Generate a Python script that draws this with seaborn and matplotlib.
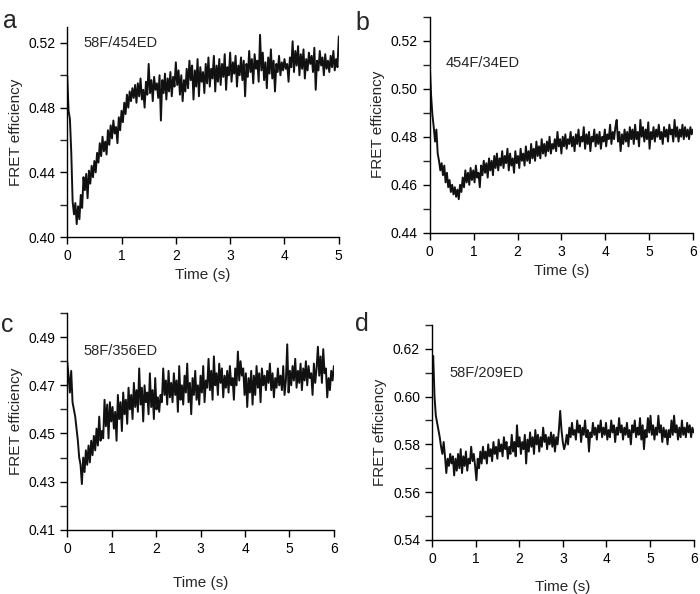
import matplotlib
matplotlib.use("Agg")
import matplotlib.pyplot as plt
import seaborn as sns
import numpy as np

# sampling interval (s) of each trace
dt_a = 0.025
dt_bcd = 0.03

# panel a: 58F/454ED
fret_a = [
    0.500, 0.478, 0.473, 0.452, 0.422, 0.414, 0.421, 0.408, 0.419, 0.411,
    0.426, 0.418, 0.437, 0.429, 0.439, 0.424, 0.441, 0.433, 0.444, 0.437,
    0.447, 0.440, 0.452, 0.446, 0.458, 0.450, 0.462, 0.453, 0.459, 0.451,
    0.466, 0.457, 0.469, 0.461, 0.472, 0.464, 0.468, 0.458, 0.474, 0.466,
    0.478, 0.471, 0.483, 0.476, 0.488, 0.480, 0.490, 0.484, 0.492, 0.486,
    0.494, 0.483, 0.495, 0.487, 0.498, 0.485, 0.491, 0.480, 0.496, 0.488,
    0.507, 0.489, 0.497, 0.484, 0.499, 0.491, 0.495, 0.486, 0.500, 0.472,
    0.497, 0.489, 0.501, 0.485, 0.498, 0.490, 0.502, 0.487, 0.499, 0.493,
    0.508, 0.494, 0.503, 0.488, 0.500, 0.484, 0.497, 0.490, 0.504, 0.492,
    0.509, 0.497, 0.506, 0.485, 0.503, 0.493, 0.510, 0.487, 0.505, 0.496,
    0.502, 0.489, 0.507, 0.495, 0.511, 0.493, 0.504, 0.498, 0.512, 0.490,
    0.506, 0.496, 0.510, 0.494, 0.507, 0.499, 0.513, 0.491, 0.505, 0.500,
    0.514, 0.496, 0.508, 0.501, 0.512, 0.493, 0.506, 0.500, 0.511, 0.497,
    0.509, 0.487, 0.507, 0.499, 0.515, 0.502, 0.510, 0.495, 0.513, 0.504,
    0.509, 0.496, 0.525, 0.503, 0.514, 0.497, 0.508, 0.492, 0.511, 0.501,
    0.516, 0.498, 0.509, 0.490, 0.507, 0.502, 0.512, 0.500, 0.508, 0.503,
    0.510, 0.504, 0.507, 0.496, 0.511, 0.505, 0.521, 0.502, 0.515, 0.506,
    0.518, 0.500, 0.513, 0.504, 0.516, 0.498, 0.510, 0.503, 0.514, 0.507,
    0.512, 0.502, 0.517, 0.491, 0.509, 0.503, 0.515, 0.506, 0.511, 0.500,
    0.513, 0.504, 0.509, 0.502, 0.512, 0.505, 0.515, 0.503, 0.510, 0.505,
    0.524,
]

# panel b: 454F/34ED
fret_b = [
    0.510, 0.497, 0.489, 0.484, 0.478, 0.483, 0.473, 0.470, 0.466, 0.469,
    0.464, 0.468, 0.461, 0.465, 0.459, 0.462, 0.457, 0.460, 0.456, 0.459,
    0.455, 0.458, 0.454, 0.460, 0.457, 0.463, 0.459, 0.466, 0.461, 0.465,
    0.460, 0.467, 0.462, 0.466, 0.461, 0.468, 0.463, 0.465, 0.459, 0.468,
    0.464, 0.470, 0.465, 0.469, 0.463, 0.471, 0.466, 0.470, 0.464, 0.472,
    0.467, 0.473, 0.466, 0.471, 0.468, 0.474, 0.467, 0.472, 0.469, 0.475,
    0.466, 0.473, 0.468, 0.471, 0.465, 0.474, 0.469, 0.472, 0.467, 0.475,
    0.470, 0.473, 0.468, 0.476, 0.470, 0.474, 0.469, 0.477, 0.471, 0.475,
    0.470, 0.478, 0.472, 0.476, 0.471, 0.479, 0.473, 0.477, 0.472, 0.478,
    0.474, 0.480, 0.473, 0.477, 0.475, 0.479, 0.474, 0.482, 0.476, 0.479,
    0.473, 0.480, 0.476, 0.481, 0.475, 0.479, 0.477, 0.482, 0.476, 0.480,
    0.474, 0.481, 0.477, 0.483, 0.476, 0.480, 0.478, 0.484, 0.475, 0.481,
    0.477, 0.482, 0.474, 0.480, 0.478, 0.483, 0.476, 0.481, 0.477, 0.482,
    0.475, 0.480, 0.478, 0.483, 0.476, 0.481, 0.479, 0.485, 0.477, 0.482,
    0.479, 0.484, 0.487, 0.478, 0.482, 0.474, 0.481, 0.477, 0.483, 0.478,
    0.482, 0.476, 0.484, 0.479, 0.483, 0.477, 0.485, 0.479, 0.482, 0.476,
    0.487, 0.480, 0.484, 0.478, 0.483, 0.479, 0.486, 0.475, 0.482, 0.479,
    0.484, 0.478, 0.483, 0.480, 0.485, 0.479, 0.482, 0.477, 0.484, 0.480,
    0.483, 0.478, 0.485, 0.481, 0.483, 0.478, 0.487, 0.480, 0.484, 0.478,
    0.483, 0.480, 0.485, 0.479, 0.484, 0.480, 0.483, 0.479, 0.484, 0.481,
    0.483,
]

# panel c: 58F/356ED
fret_c = [
    0.480, 0.474, 0.467, 0.476, 0.463, 0.460, 0.457, 0.452, 0.447, 0.440,
    0.437, 0.429, 0.440, 0.434, 0.443, 0.437, 0.445, 0.438, 0.447, 0.441,
    0.449, 0.443, 0.452, 0.445, 0.457, 0.447, 0.451, 0.448, 0.464, 0.453,
    0.462, 0.448, 0.463, 0.455, 0.461, 0.452, 0.459, 0.447, 0.466, 0.456,
    0.463, 0.451, 0.467, 0.458, 0.464, 0.454, 0.469, 0.460, 0.466, 0.456,
    0.471, 0.461, 0.468, 0.459, 0.477, 0.462, 0.469, 0.455, 0.470, 0.463,
    0.467, 0.458, 0.475, 0.461, 0.468, 0.456, 0.473, 0.460, 0.465, 0.459,
    0.466, 0.463, 0.477, 0.466, 0.472, 0.462, 0.476, 0.465, 0.471, 0.463,
    0.475, 0.466, 0.472, 0.459, 0.478, 0.464, 0.470, 0.462, 0.474, 0.467,
    0.479, 0.463, 0.471, 0.458, 0.473, 0.466, 0.476, 0.464, 0.470, 0.462,
    0.474, 0.467, 0.478, 0.463, 0.472, 0.469, 0.481, 0.468, 0.476, 0.464,
    0.482, 0.470, 0.475, 0.466, 0.479, 0.471, 0.477, 0.465, 0.474, 0.469,
    0.476, 0.467, 0.478, 0.470, 0.473, 0.464, 0.477, 0.470, 0.484, 0.472,
    0.480, 0.474, 0.477, 0.466, 0.475, 0.461, 0.473, 0.467, 0.476, 0.462,
    0.474, 0.466, 0.478, 0.469, 0.475, 0.463, 0.477, 0.470, 0.474, 0.468,
    0.476, 0.471, 0.479, 0.468, 0.475, 0.465, 0.473, 0.469, 0.477, 0.470,
    0.474, 0.468, 0.478, 0.466, 0.472, 0.487, 0.467, 0.476, 0.470, 0.478,
    0.472, 0.481, 0.469, 0.476, 0.471, 0.479, 0.468, 0.477, 0.472, 0.480,
    0.470, 0.478, 0.473, 0.475, 0.466, 0.479, 0.471, 0.477, 0.486, 0.474,
    0.482, 0.471, 0.485, 0.475, 0.477, 0.465, 0.473, 0.468, 0.476, 0.472,
    0.478,
]

# panel d: 58F/209ED
fret_d = [
    0.610, 0.617, 0.600, 0.592, 0.589, 0.586, 0.583, 0.579, 0.576, 0.581,
    0.575, 0.568, 0.574, 0.571, 0.576, 0.572, 0.575, 0.567, 0.574, 0.569,
    0.576, 0.570, 0.578, 0.568, 0.575, 0.571, 0.577, 0.569, 0.574, 0.572,
    0.579, 0.573, 0.576, 0.571, 0.565, 0.574, 0.570, 0.577, 0.572, 0.579,
    0.574, 0.577, 0.572, 0.580, 0.575, 0.578, 0.573, 0.581, 0.576, 0.579,
    0.574, 0.582, 0.577, 0.580, 0.575, 0.583, 0.578, 0.581, 0.574, 0.579,
    0.576, 0.584, 0.577, 0.581, 0.575, 0.588, 0.579, 0.583, 0.576, 0.581,
    0.578, 0.584, 0.572, 0.582, 0.577, 0.585, 0.579, 0.583, 0.576, 0.586,
    0.580, 0.584, 0.577, 0.583, 0.579, 0.587, 0.581, 0.584, 0.578, 0.583,
    0.580, 0.585, 0.579, 0.584, 0.577, 0.583, 0.580, 0.586, 0.594, 0.586,
    0.581, 0.578, 0.580, 0.584, 0.580, 0.587, 0.583, 0.589, 0.584, 0.586,
    0.582, 0.590, 0.585, 0.588, 0.581, 0.587, 0.584, 0.590, 0.583, 0.586,
    0.577, 0.585, 0.583, 0.589, 0.584, 0.587, 0.582, 0.588, 0.585, 0.590,
    0.583, 0.587, 0.584, 0.589, 0.582, 0.586, 0.583, 0.590, 0.585, 0.588,
    0.581, 0.587, 0.584, 0.591, 0.585, 0.588, 0.582, 0.587, 0.584, 0.589,
    0.583, 0.586, 0.580, 0.588, 0.585, 0.590, 0.583, 0.587, 0.584, 0.591,
    0.582, 0.588, 0.578, 0.586, 0.583, 0.591, 0.585, 0.592, 0.584, 0.588,
    0.582, 0.587, 0.584, 0.592, 0.585, 0.588, 0.581, 0.587, 0.583, 0.586,
    0.580, 0.586, 0.583, 0.590, 0.584, 0.592, 0.585, 0.588, 0.582, 0.587,
    0.583, 0.590, 0.584, 0.587, 0.583, 0.589, 0.585, 0.588, 0.583, 0.587,
    0.585,
]

# y tick values (labelled / unlabelled) per panel
yticks_a = [0.40, 0.44, 0.48, 0.52]
yminor_a = [0.42, 0.46, 0.50]
yticks_b = [0.44, 0.46, 0.48, 0.50, 0.52]
yminor_b = [0.45, 0.47, 0.49, 0.51, 0.53]
yticks_c = [0.41, 0.43, 0.45, 0.47, 0.49]
yminor_c = [0.42, 0.44, 0.46, 0.48, 0.50]
yticks_d = [0.54, 0.56, 0.58, 0.60, 0.62]
yminor_d = [0.55, 0.57, 0.59, 0.61, 0.63]

panels = [
    # letter, values, dt, name, xmax, ylim, major, minor
    ("a", fret_a, dt_a, "58F/454ED", 5, (0.40, 0.53), yticks_a, yminor_a),
    ("b", fret_b, dt_bcd, "454F/34ED", 6, (0.44, 0.53), yticks_b, yminor_b),
    ("c", fret_c, dt_bcd, "58F/356ED", 6, (0.41, 0.50), yticks_c, yminor_c),
    ("d", fret_d, dt_bcd, "58F/209ED", 6, (0.54, 0.63), yticks_d, yminor_d),
]

# axes rectangles in figure fraction
boxes = [
    [0.096, 0.601, 0.388, 0.354],
    [0.614, 0.608, 0.376, 0.364],
    [0.096, 0.108, 0.381, 0.365],
    [0.617, 0.091, 0.374, 0.362],
]
text_pos = [(0.06, 0.924), (0.06, 0.787), (0.06, 0.825), (0.068, 0.777)]
letter_pos = [(0.014, 0.985), (0.517, 0.982), (0.010, 0.473), (0.517, 0.475)]
xlabel_pad = [4, 4, 15, 10.5]

sns.set_style("ticks")
plt.rcParams['font.family'] = ['Liberation Sans', 'DejaVu Sans']
plt.rcParams['axes.linewidth'] = 1.0
plt.rcParams['xtick.major.width'] = 1.0
plt.rcParams['ytick.major.width'] = 1.0
plt.rcParams['ytick.minor.width'] = 1.0
plt.rcParams['xtick.major.size'] = 5
plt.rcParams['ytick.major.size'] = 5
plt.rcParams['ytick.minor.size'] = 5

fig = plt.figure(figsize=(7.0, 5.94), dpi=100)

for i, (letter, vals, dt, name, xmax, ylim, major, minor) in enumerate(panels):
    ax = fig.add_axes(boxes[i])
    t = np.arange(len(vals)) * dt
    sns.lineplot(x=t, y=vals, ax=ax, color="#111111", linewidth=1.4)
    ax.set_xlim(0, xmax)
    ax.set_ylim(*ylim)
    ax.set_xticks(range(xmax + 1))
    ax.set_yticks(major)
    ax.set_yticks(minor, minor=True)
    ax.set_yticklabels([f"{v:.2f}" for v in major])
    ax.tick_params(axis="both", labelsize=10, colors="black", direction="out")
    ax.set_xlabel("Time (s)", fontsize=11, labelpad=xlabel_pad[i])
    ax.set_ylabel("FRET efficiency", fontsize=11)
    sns.despine(ax=ax)
    for s in ["left", "bottom"]:
        ax.spines[s].set_color("black")
    ax.text(text_pos[i][0], text_pos[i][1], name, transform=ax.transAxes,
            fontsize=10.5, va="center", ha="left")
    fig.text(letter_pos[i][0], letter_pos[i][1], letter, fontsize=18,
             va="top", ha="center")

fig.savefig("out.png", dpi=100)
